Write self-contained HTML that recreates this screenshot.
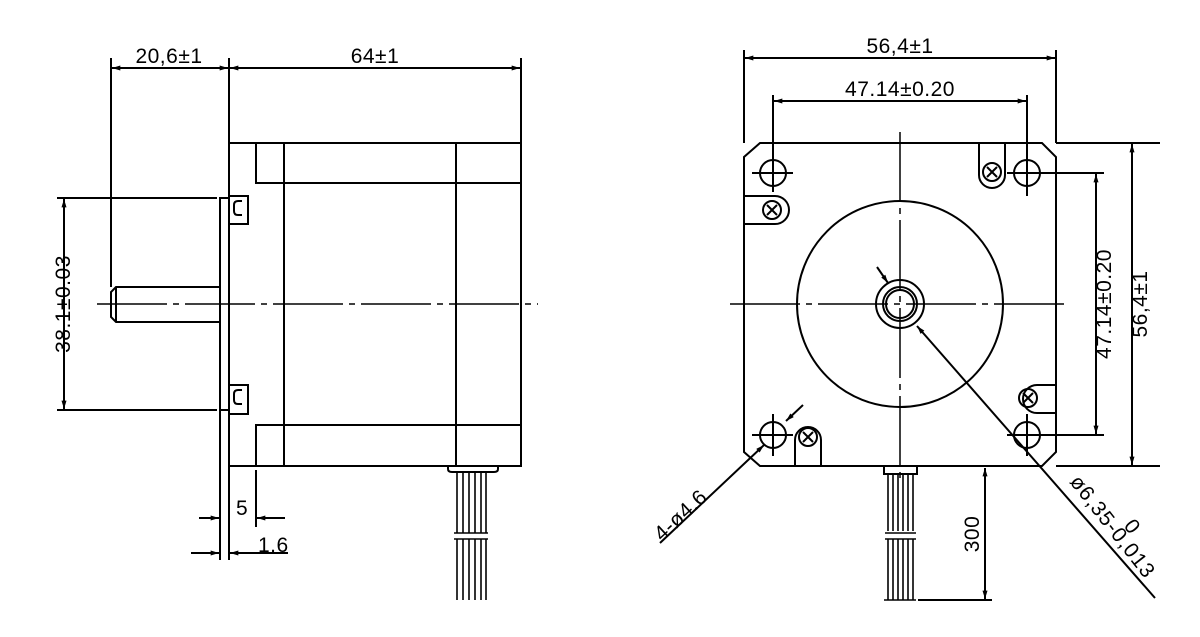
<!DOCTYPE html>
<html><head><meta charset="utf-8"><style>html,body{margin:0;padding:0;background:#fff}svg{display:block}</style></head>
<body>
<svg width="1200" height="637" viewBox="0 0 1200 637" xmlns="http://www.w3.org/2000/svg" font-family="Liberation Sans, sans-serif" font-size="21" letter-spacing="0.5">
<defs>
<marker id="a" viewBox="0 0 10 6" refX="10" refY="3" markerWidth="11" markerHeight="5" orient="auto-start-reverse" markerUnits="userSpaceOnUse"><path d="M0,0 L10,3 L0,6z" fill="#000"/></marker>
</defs>
<g stroke="#000" stroke-width="2" fill="none">
<!-- LEFT VIEW -->
<rect x="229" y="143" width="292" height="323"/>
<line x1="284" y1="143" x2="284" y2="466"/>
<line x1="456" y1="143" x2="456" y2="466"/>
<polyline points="256,143 256,183 521,183"/>
<polyline points="256,466 256,425 521,425"/>
<rect x="220" y="198" width="9" height="212"/>
<line x1="220" y1="410" x2="220" y2="560"/>
<line x1="229" y1="466" x2="229" y2="560"/>
<rect x="229" y="196" width="19" height="28"/>
<path d="M242,201 h-4 q-4,0 -4,4 v6 q0,4 4,4 h4"/>
<rect x="229" y="385" width="19" height="29"/>
<path d="M242,390 h-4 q-4,0 -4,4 v6 q0,4 4,4 h4"/>
<path d="M220,287 H116 L111,292 V317 L116,322 H220"/>
<line x1="116" y1="287" x2="116" y2="322"/>
<line x1="97" y1="304" x2="538" y2="304" stroke-dasharray="70,6,6,6" stroke-width="1.5"/>
<line x1="57" y1="198" x2="217" y2="198"/>
<line x1="57" y1="410" x2="217" y2="410"/>
<line x1="64" y1="199" x2="64" y2="409" marker-start="url(#a)" marker-end="url(#a)"/>
<line x1="111" y1="58" x2="111" y2="287"/>
<line x1="229" y1="58" x2="229" y2="143"/>
<line x1="521" y1="58" x2="521" y2="143"/>
<line x1="112" y1="68" x2="228" y2="68" marker-start="url(#a)" marker-end="url(#a)"/>
<line x1="230" y1="68" x2="520" y2="68" marker-start="url(#a)" marker-end="url(#a)"/>
<line x1="256" y1="470" x2="256" y2="527"/>
<line x1="199" y1="518" x2="219" y2="518" marker-end="url(#a)"/>
<line x1="285" y1="518" x2="257" y2="518" marker-end="url(#a)"/>
<line x1="191" y1="553" x2="219" y2="553" marker-end="url(#a)"/>
<line x1="288" y1="553" x2="230" y2="553" marker-end="url(#a)"/>
<path d="M448,466 v3 q0,3 4,3 h42 q4,0 4,-3 v-3"/>
<g stroke-width="1.6">
<line x1="457" y1="472" x2="457" y2="533"/><line x1="463" y1="472" x2="463" y2="533"/><line x1="469" y1="472" x2="469" y2="533"/><line x1="475" y1="472" x2="475" y2="533"/><line x1="481" y1="472" x2="481" y2="533"/><line x1="486" y1="472" x2="486" y2="533"/>
<line x1="457" y1="539" x2="457" y2="600"/><line x1="463" y1="539" x2="463" y2="600"/><line x1="469" y1="539" x2="469" y2="600"/><line x1="475" y1="539" x2="475" y2="600"/><line x1="481" y1="539" x2="481" y2="600"/><line x1="486" y1="539" x2="486" y2="600"/>
<line x1="454" y1="533" x2="488" y2="533"/><line x1="454" y1="539" x2="488" y2="539"/>
</g>

<!-- RIGHT VIEW -->
<path d="M760,143 H1042 L1056,157 V452 L1042,466 H760 L744,452 V157 Z"/>
<circle cx="900" cy="304" r="103"/>
<circle cx="900" cy="304" r="24"/>
<circle cx="900" cy="304" r="17"/>
<circle cx="900" cy="304" r="14"/>
<line x1="900" y1="132" x2="900" y2="478" stroke-dasharray="70,6,6,6" stroke-width="1.5"/>
<line x1="730" y1="304" x2="1068" y2="304" stroke-dasharray="70,6,6,6" stroke-width="1.5"/>
<circle cx="773" cy="173" r="13"/><circle cx="1027" cy="173" r="13"/><circle cx="773" cy="435" r="13"/><circle cx="1027" cy="435" r="13"/>
<line x1="752" y1="173" x2="793" y2="173"/><line x1="773" y1="95" x2="773" y2="192"/>
<line x1="1007" y1="173" x2="1104" y2="173"/><line x1="1027" y1="95" x2="1027" y2="196"/>
<line x1="752" y1="435" x2="793" y2="435"/><line x1="773" y1="414" x2="773" y2="456"/>
<line x1="1007" y1="435" x2="1104" y2="435"/><line x1="1027" y1="414" x2="1027" y2="456"/>
<g>
<path d="M744,196 H775 A12,12 0 0 1 775,224 H744"/><circle cx="772" cy="210" r="9"/><path d="M767,205 l10,10 M777,205 l-10,10"/>
<path d="M979,143 V175 A12,12 0 0 0 1005,175 V143"/><circle cx="992" cy="172" r="9"/><path d="M987,167 l10,10 M997,167 l-10,10"/>
<path d="M1056,385 H1037 A13,13 0 0 0 1037,413 H1056"/><circle cx="1028" cy="398" r="9"/><path d="M1023,393 l10,10 M1033,393 l-10,10"/>
<path d="M795,466 V440 A13,13 0 0 1 821,440 V466"/><circle cx="808" cy="437" r="9"/><path d="M803,432 l10,10 M813,432 l-10,10"/>
</g>
<line x1="744" y1="50" x2="744" y2="143"/>
<line x1="1056" y1="50" x2="1056" y2="143"/>
<line x1="745" y1="58" x2="1055" y2="58" marker-start="url(#a)" marker-end="url(#a)"/>
<line x1="774" y1="101" x2="1026" y2="101" marker-start="url(#a)" marker-end="url(#a)"/>
<line x1="1056" y1="143" x2="1160" y2="143"/>
<line x1="1056" y1="466" x2="1160" y2="466"/>
<line x1="1096" y1="174" x2="1096" y2="434" marker-start="url(#a)" marker-end="url(#a)"/>
<line x1="1132" y1="144" x2="1132" y2="465" marker-start="url(#a)" marker-end="url(#a)"/>
<line x1="985" y1="468" x2="985" y2="599" marker-start="url(#a)" marker-end="url(#a)"/>
<line x1="918" y1="600" x2="992" y2="600"/>
<rect x="884" y="466" width="33" height="8"/>
<g stroke-width="1.6">
<line x1="888" y1="474" x2="888" y2="531"/><line x1="893" y1="474" x2="893" y2="531"/><line x1="898" y1="474" x2="898" y2="531"/><line x1="903" y1="474" x2="903" y2="531"/><line x1="908" y1="474" x2="908" y2="531"/><line x1="913" y1="474" x2="913" y2="531"/>
<line x1="888" y1="539" x2="888" y2="600"/><line x1="893" y1="539" x2="893" y2="600"/><line x1="898" y1="539" x2="898" y2="600"/><line x1="903" y1="539" x2="903" y2="600"/><line x1="908" y1="539" x2="908" y2="600"/><line x1="913" y1="539" x2="913" y2="600"/>
<line x1="885" y1="533" x2="916" y2="533"/><line x1="885" y1="539" x2="916" y2="539"/>
<line x1="884" y1="600" x2="916" y2="600"/>
</g>
<line x1="660" y1="543" x2="764" y2="445" marker-end="url(#a)"/>
<line x1="803" y1="405" x2="786" y2="421" marker-end="url(#a)"/>
<line x1="877" y1="267" x2="888" y2="283" marker-end="url(#a)"/>
<line x1="1155" y1="598" x2="917" y2="326" marker-end="url(#a)"/>
</g>
<g fill="#000" stroke="none">
<text x="169" y="63" text-anchor="middle">20,6±1</text>
<text x="375" y="63" text-anchor="middle">64±1</text>
<text x="236" y="515">5</text>
<text x="258" y="552">1.6</text>
<text transform="translate(70,304) rotate(-90)" text-anchor="middle">38.1±0.03</text>
<text x="900" y="53" text-anchor="middle">56,4±1</text>
<text x="900" y="96" text-anchor="middle">47.14±0.20</text>
<text transform="translate(1111,304) rotate(-90)" text-anchor="middle">47.14±0.20</text>
<text transform="translate(1147,304) rotate(-90)" text-anchor="middle">56,4±1</text>
<text transform="translate(979,534) rotate(-90)" text-anchor="middle">300</text>
<text transform="translate(662,542) rotate(-43)">4-ø4.6</text>
<text transform="translate(1069,482) rotate(52)" letter-spacing="1">ø6,35-0,013</text>
<text transform="translate(1123,526) rotate(52)">0</text>
</g>
</svg>
</body></html>
